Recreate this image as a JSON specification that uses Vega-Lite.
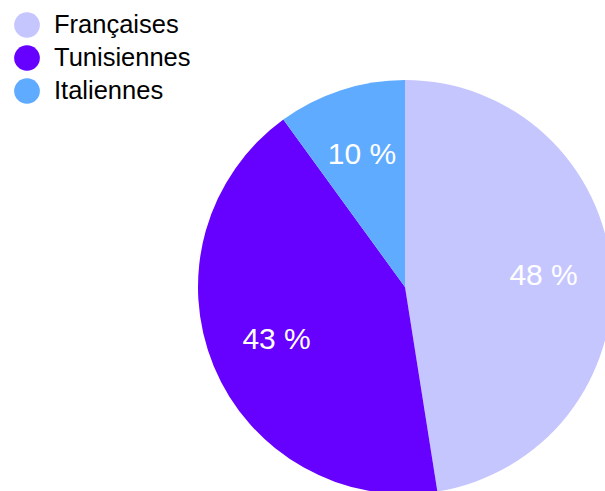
{
  "$schema": "https://vega.github.io/schema/vega-lite/v6.json",
  "width": 810,
  "height": 574,
  "padding": 0,
  "autosize": {"type": "none"},
  "background": "white",
  "config": {"view": {"stroke": null}, "font": "Liberation Sans"},
  "data": {"values": [
    {"groupe": "Françaises", "valeur": 47.5, "label": "48 %", "k": 1},
    {"groupe": "Tunisiennes", "valeur": 42.5, "label": "43 %", "k": 2},
    {"groupe": "Italiennes", "valeur": 10, "label": "10 %", "k": 3}
  ]},
  "encoding": {
    "theta": {"field": "valeur", "type": "quantitative", "stack": true},
    "order": {"field": "k", "type": "quantitative"}
  },
  "layer": [
    {
      "mark": {"type": "arc", "radius": 207},
      "encoding": {
        "color": {
          "field": "groupe", "type": "nominal",
          "sort": ["Françaises", "Tunisiennes", "Italiennes"],
          "scale": {"domain": ["Françaises", "Tunisiennes", "Italiennes"], "range": ["#c6c6fe", "#6600ff", "#5eabff"]},
          "legend": {
            "title": null, "orient": "none", "legendX": 14, "legendY": 12,
            "symbolType": "circle", "symbolSize": 660, "symbolStrokeWidth": 0,
            "labelFontSize": 25.5, "labelColor": "#000", "labelFont": "Liberation Sans",
            "labelOffset": 14, "rowPadding": 6, "labelLimit": 300
          }
        }
      }
    },
    {
      "mark": {"type": "text", "radius": 139, "fontSize": 30, "color": "white", "font": "Liberation Sans", "baseline": "middle", "align": "center"},
      "encoding": {"text": {"field": "label", "type": "nominal"}}
    }
  ]
}
